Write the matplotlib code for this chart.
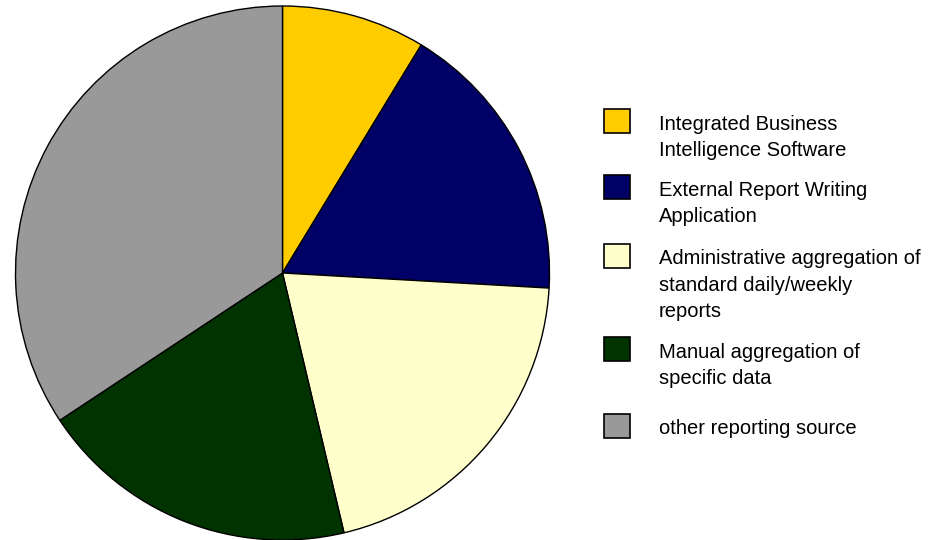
import matplotlib.pyplot as plt
from matplotlib.patches import Rectangle

# reporting source shares (percent)
labels = [
    "Integrated Business\nIntelligence Software",
    "External Report Writing\nApplication",
    "Administrative aggregation of\nstandard daily/weekly\nreports",
    "Manual aggregation of\nspecific data",
    "other reporting source",
]
shares = [8.7, 17.2, 20.4, 19.4, 34.3]
colors = ["#FFCC00", "#000066", "#FFFFCC", "#003300", "#999999"]

plt.rcParams['font.family'] = ['Liberation Sans', 'DejaVu Sans']

W, H = 953, 540
fig = plt.figure(figsize=(W / 100, H / 100), dpi=100)

# pie: centre (282.5, 273) px, radius 267 px
cx, cy, r = 282.5, 273, 267
ax = fig.add_axes([(cx - r) / W, (H - cy - r) / H, 2 * r / W, 2 * r / H])
ax.pie(shares, colors=colors, startangle=90, counterclock=False,
       wedgeprops=dict(edgecolor="black", linewidth=1.0))
ax.set_xlim(-1.0, 1.0)
ax.set_ylim(-1.0, 1.0)
ax.set_aspect("equal")
ax.axis("off")

# legend drawn by hand in pixel coordinates
box_tops = [109, 175, 244, 337, 414]
for top, lab, col in zip(box_tops, labels, colors):
    fig.patches.append(Rectangle((603.5 / W, 1 - (top + 23.5) / H), 26 / W, 23.5 / H,
                                 transform=fig.transFigure, facecolor=col,
                                 edgecolor="black", linewidth=1.2))
    fig.text(659 / W, 1 - (top + 5.5) / H, lab, fontsize=14.5, va="top", ha="left",
             linespacing=1.48)

fig.savefig("out.png", dpi=100)
